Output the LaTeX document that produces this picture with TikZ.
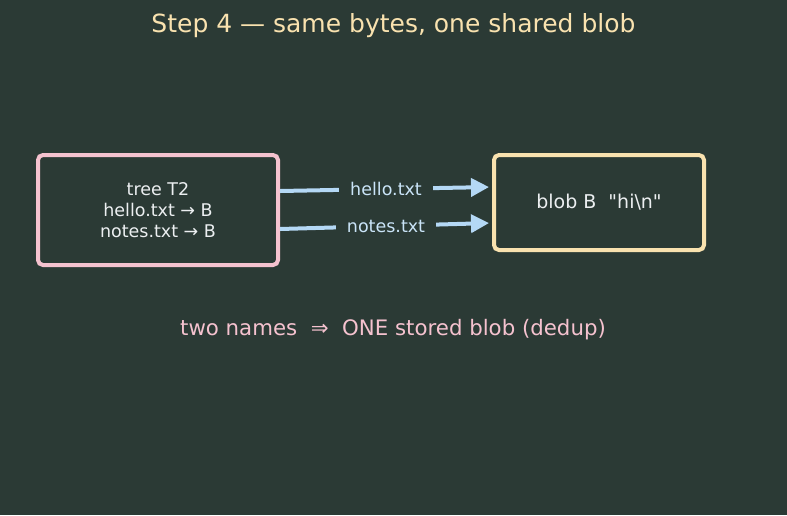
\documentclass[tikz,border=0pt]{standalone}
\usepackage{fontspec}
\setmainfont{DejaVu Sans}
\usetikzlibrary{arrows.meta}
\definecolor{bgdark}{HTML}{2B3A35}
\definecolor{treepink}{HTML}{F5C2CF}
\definecolor{blobyellow}{HTML}{F9E2AF}
\definecolor{linkblue}{HTML}{B4D8F5}
\definecolor{boxtext}{HTML}{ECEFF1}
\begin{document}
\begin{tikzpicture}[
        x=1pt, y=-1pt,
        objbox/.style={draw, line width=4pt, rounded corners=5pt, fill=bgdark, text=boxtext, font=\fontsize{17.5}{21}\selectfont, align=center},
        link/.style={draw=linkblue, line width=4pt, -{Triangle[length=18pt,width=18pt]}},
        linklabel/.style={fill=bgdark, text=linkblue!70!white, font=\fontsize{17.5}{21}\selectfont, inner xsep=11pt, inner ysep=3pt}
    ]
        \fill[bgdark] (0,0) rectangle (787,515);
        \useasboundingbox (0,0) rectangle (787,515);
        \node[text=blobyellow, font=\fontsize{25}{30}\selectfont] (title) at (393.5,26) {Step 4 — same bytes, one shared blob};
        \node[objbox, draw=treepink, minimum width=240pt, minimum height=110pt] (tree) at (158,210) {tree T2\\hello.txt → B\\notes.txt → B};
        \node[objbox, draw=blobyellow, minimum width=210pt, minimum height=95pt, font=\fontsize{19}{23}\selectfont] (blob) at (599,202.5) {blob B\ \ \textquotedbl hi\textbackslash n\textquotedbl};
        \draw[link, shorten >=3pt] ([yshift=19pt]tree.east) -- node[linklabel] {hello.txt} ([yshift=15.5pt]blob.west);
        \draw[link, shorten >=3pt] ([yshift=-19pt]tree.east) -- node[linklabel] {notes.txt} ([yshift=-20.5pt]blob.west);
        \node[text=treepink, font=\fontsize{21.3}{25}\selectfont] (note) at (393,330) {two names\ \ ⇒\ \ ONE stored blob (dedup)};
    \end{tikzpicture}
\end{document}
